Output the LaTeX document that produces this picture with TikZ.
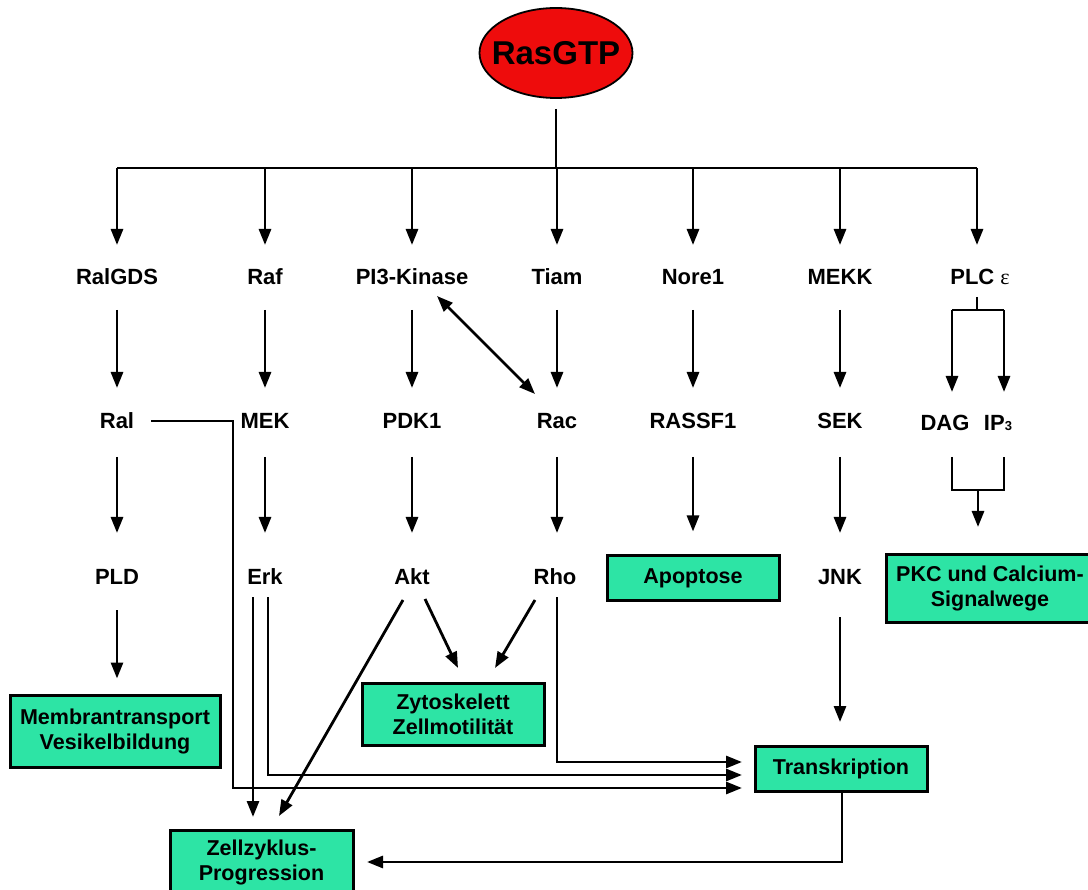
\documentclass[tikz,border=0pt]{standalone}
\usepackage{fontspec}
\setmainfont{Liberation Sans}
\newfontfamily\serifeps{Liberation Serif}
\usetikzlibrary{arrows.meta,calc,shapes.geometric}
\definecolor{boxgreen}{RGB}{45,228,165}
\definecolor{rasred}{RGB}{238,12,12}
\begin{document}
\begin{tikzpicture}[x=1pt,y=-1pt,
  lab/.style={font=\fontsize{22}{24}\selectfont\bfseries, inner sep=0pt},
  gbox/.style={draw=black, line width=3pt, fill=boxgreen, font=\fontsize{21.5}{25}\selectfont\bfseries, align=center, inner sep=0pt},
  arr/.style={line width=2.8pt, -{Triangle[length=16pt,width=12pt]}},
  darr/.style={line width=2.8pt, {Triangle[length=16pt,width=12pt]}-{Triangle[length=16pt,width=12pt]}},
  ln/.style={line width=2.8pt},
]
\useasboundingbox (0,0) rectangle (1088,890);

% top node
\node[draw=black, line width=1.8pt, fill=rasred, ellipse, minimum width=153pt, minimum height=90pt, inner sep=0pt,
  font=\fontsize{33}{36}\selectfont\bfseries] (ras) at (556,53) {\makebox[0pt]{RasGTP}};

% row 1
\node[lab] (ralgds) at (117,277) {RalGDS};
\node[lab] (raf)    at (265,277) {Raf};
\node[lab] (pi3k)   at (412,277) {PI3-Kinase};
\node[lab] (tiam)   at (557,277) {Tiam};
\node[lab] (nore)   at (693,277) {Nore1};
\node[lab] (mekk)   at (840,277) {MEKK};
\node[lab] (plc)    at (980,277) {PLC {\serifeps\mdseries ε}};

% row 2
\node[lab] (ral)    at (117,421) {Ral};
\node[lab] (mek)    at (265,421) {MEK};
\node[lab] (pdk)    at (412,421) {PDK1};
\node[lab] (rac)    at (557,421) {Rac};
\node[lab] (rassf)  at (693,421) {RASSF1};
\node[lab] (sek)    at (840,421) {SEK};
\node[lab] (dag)    at (945,423) {DAG};
\node[lab] (ip3)    at (998,423) {IP{\fontsize{13}{13}\selectfont 3}};

% row 3
\node[lab] (pld)    at (117,577) {PLD};
\node[lab] (erk)    at (265,577) {Erk};
\node[lab] (akt)    at (412,577) {Akt};
\node[lab] (rho)    at (555,577) {Rho};
\node[gbox, minimum width=172pt, minimum height=44pt] (apo) at (693,578) {Apoptose};
\node[lab] (jnk)    at (840,577) {JNK};
\node[gbox, minimum width=208pt, minimum height=67pt] (pkc) at (990,588.5) {PKC und Calcium-\\Signalwege};

% bottom boxes
\node[gbox, minimum width=210pt, minimum height=72pt] (membran) at (115,731) {Membrantransport\\Vesikelbildung};
\node[gbox, minimum width=182pt, minimum height=62pt] (zyto) at (453,714) {Zytoskelett\\Zellmotilität};
\node[gbox, minimum width=172pt, minimum height=45pt] (trans) at (841,769) {Transkription};
\node[gbox, minimum width=183pt, minimum height=64pt] (zell) at (261.5,862) {Zellzyklus-\\Progression};

% distribution from RasGTP
\coordinate (hub) at (556,168);
\draw[ln] ([yshift=-10pt]ras.south) -- (hub);
\draw[ln] (117,168) -- (977,168);
\foreach \x in {117, 265, 412, 557, 693, 840, 977}{
  \draw[arr] (\x,168) -- (\x,245);
}

% row1 -> row2
\foreach \a/\b in {ralgds/ral, raf/mek, pi3k/pdk, tiam/rac, nore/rassf, mekk/sek}{
  \draw[arr] ([yshift=-33pt]\a.center) -- ([yshift=33pt]\b.center);
}
% row2 -> row3
\foreach \a/\b in {ral/pld, mek/erk, pdk/akt, sek/jnk}{
  \draw[arr] ([yshift=-36pt]\a.center) -- ([yshift=44pt]\b.center);
}
\draw[arr] ([yshift=-36pt]rac.center) -- ($(rac.center |- rho.center)+(0,-44)$);
\draw[arr] ([yshift=-36pt]rassf.center) -- ([yshift=23pt]apo.north);

% PLC fork
\coordinate (pf) at (977,310);
\draw[ln] (977,297) -- (pf);
\draw[ln] (952,310) -- (1004,310);
\draw[arr] (952,310) -- (952,392);
\draw[arr] (1004,310) -- (1004,392);
\draw[ln] (952,457) -- (952,490) -- (1004,490) -- (1004,457);
\draw[arr] (978,490) -- (978,527);

% PI3K <-> Rac
\draw[darr] (437,296) -- (535,394);

% PLD -> Membran
\draw[arr] ([yshift=-33pt]pld.center) -- ($(pld.center |- membran.north)+(0,-15)$);

% connector end coordinates
\coordinate (tin1) at (742,762);
\coordinate (tin2) at (742,775);
\coordinate (tin3) at (742,788);
\coordinate (tout) at (842,792);
\coordinate (zin)  at (367,862);

% Ral -> Transkription
\draw[arr] (151,421) -- (233,421) -- (233,788) -- (tin3);
% Erk -> Transkription
\draw[arr] (268,597) -- (268,775) -- (tin2);
% Erk -> Zellzyklus
\draw[arr] (253,597) -- (253,817);
% Rho -> Transkription
\draw[arr] (557,597) -- (557,762) -- (tin1);
% Akt -> Zellzyklus
\draw[arr] (403,600) -- (279,816);
% Akt -> Zyto
\draw[arr] (425,599) -- (458,668);
% Rho -> Zyto
\draw[arr] (535,600) -- (495,668);
% JNK -> Transkription
\draw[arr] (840,617) -- (840,722);
% Transkription -> Zellzyklus
\draw[arr] (tout) -- (842,862) -- (zin);
\end{tikzpicture}
\end{document}
